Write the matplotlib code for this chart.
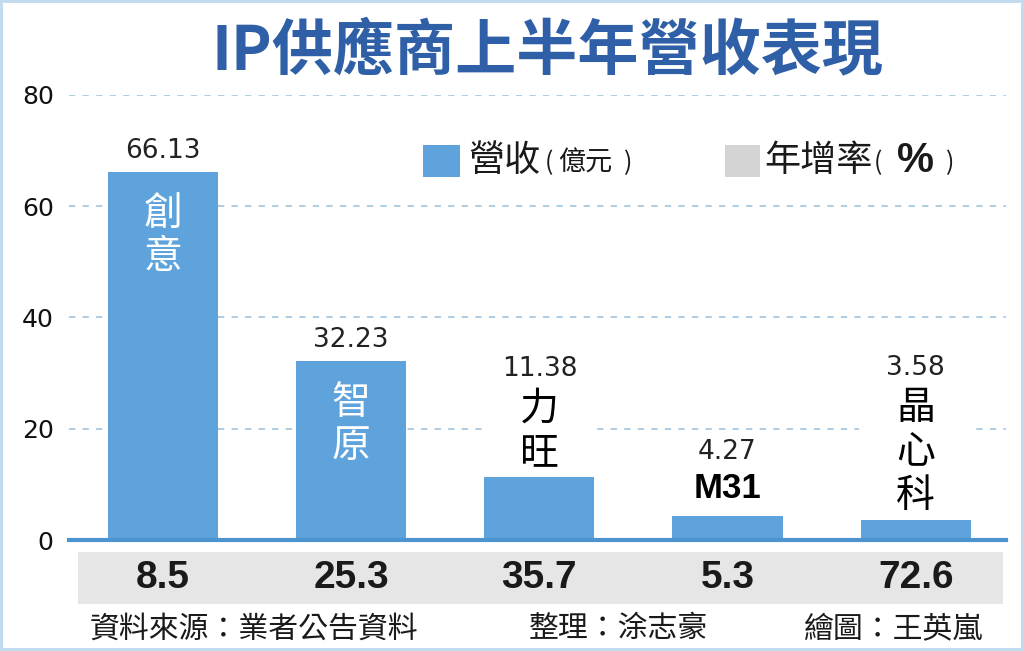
import matplotlib
matplotlib.use("Agg")
import matplotlib.pyplot as plt
from matplotlib.patches import Rectangle
import matplotlib.transforms as mtransforms

plt.rcParams['font.family'] = ['Noto Sans CJK TC', 'DejaVu Sans']

# ---- data ----
companies = ['創意', '智原', '力旺', 'M31', '晶心科']
revenue = [66.13, 32.23, 11.38, 4.27, 3.58]        # 營收 (億元)
growth = [8.5, 25.3, 35.7, 5.3, 72.6]              # 年增率 (%)
label_inside = [True, True, False, False, False]
yticks = [0, 20, 40, 60, 80]

title = 'IP供應商上半年營收表現'
source = '資料來源：業者公告資料'
editor = '整理：涂志豪'
artist = '繪圖：王英嵐'

# ---- style ----
BAR = '#5ea3dc'
BASE = '#4b94cf'
GRID = '#a9c8df'
BAND = '#e6e6e6'
LEG_GRAY = '#d4d4d4'
TITLE_C = '#2f5fa6'
NUMFONT = ['DejaVu Sans']
TXT = '#1a1a1a'

fig = plt.figure(figsize=(10.24, 6.51), dpi=100)
fig.patch.set_facecolor('white')
fig.patch.set_edgecolor('#c2dbee')
fig.patch.set_linewidth(4)

ax = fig.add_axes([0.0674, 0.1705, 0.915, 0.6836])
x = list(range(len(companies)))
ax.set_xlim(-0.5, len(companies) - 0.52)
ax.set_ylim(0, 80)

for s in ax.spines.values():
    s.set_visible(False)
ax.set_xticks([])
ax.set_yticks(yticks)
ax.set_yticklabels([str(t) for t in yticks], fontsize=18, family=NUMFONT, color='#111111')
ax.tick_params(axis='y', length=0, pad=11)
for t in yticks[1:]:
    ax.axhline(t, color=GRID, lw=1.3, ls=(0, (3.5, 4)), zorder=0)

bw = 0.585
bars = ax.bar(x, revenue, width=bw, color=BAR, zorder=3)
ax.axhline(0, color=BASE, lw=3, zorder=4, clip_on=False)

PX = 72 / 100.0  # points per pixel

name_texts = []
for xi, v, name, inside in zip(x, revenue, companies, label_inside):
    if inside:
        ax.annotate('\n'.join(name), (xi, v), xytext=(0, -22 * PX), textcoords='offset points',
                    ha='center', va='top', fontsize=28, color='white', linespacing=1.1, zorder=5)
        ax.annotate(f'{v:.2f}', (xi, v), xytext=(0, 8 * PX), textcoords='offset points',
                    ha='center', va='bottom', fontsize=19, color='#222222', family=NUMFONT, zorder=5)
    else:
        if name.isascii():
            t = ax.annotate(name, (xi, v), xytext=(0, 11 * PX), textcoords='offset points',
                            ha='center', va='bottom', fontsize=25, fontweight='bold', color='black',
                            family=['Liberation Sans', 'DejaVu Sans'], zorder=5)
        else:
            t = ax.annotate('\n'.join(name), (xi, v), xytext=(0, 4 * PX), textcoords='offset points',
                            ha='center', va='bottom', fontsize=28, color='black', linespacing=1.13, zorder=5)
        name_texts.append((xi, v, t))

fig.canvas.draw()
r = fig.canvas.get_renderer()
inv = ax.transData.inverted()
for xi, v, t in name_texts:
    bb = t.get_window_extent(r)
    top = inv.transform((0, bb.y1))[1]
    if top > 20:
        ax.add_patch(Rectangle((xi - bw / 2 - 0.01, v), bw + 0.02, top - v, facecolor='white',
                               edgecolor='none', zorder=1))
    ax.annotate(f'{v:.2f}', (xi, top), xytext=(0, 7 * PX), textcoords='offset points',
                ha='center', va='bottom', fontsize=19, color='#222222', family=NUMFONT, zorder=5)

# ---- growth band ----
trans = mtransforms.blended_transform_factory(ax.transData, ax.transAxes)
ax.add_patch(Rectangle((0.0096, -0.144), 0.987, 0.116, transform=ax.transAxes,
                       facecolor=BAND, edgecolor='none', clip_on=False, zorder=1))
for xi, g in zip(x, growth):
    ax.text(xi, -0.085, f'{g}', transform=trans, ha='center', va='center', fontsize=28,
            fontweight='bold', color=TXT, family=['Liberation Sans Narrow', 'Liberation Sans'],
            clip_on=False)

# ---- title ----
fig.text(0.535, 0.921, title, ha='center', va='center', fontsize=44, fontweight='bold', color=TITLE_C)

# ---- legend ----
fig.add_artist(Rectangle((0.413, 0.728), 0.036, 0.050, transform=fig.transFigure,
                         facecolor=BAR, edgecolor='none'))
fig.text(0.457, 0.753, '營收', ha='left', va='center', fontsize=26, color=TXT)
fig.text(0.532, 0.750, '(', ha='left', va='center', fontsize=18, color=TXT)
fig.text(0.5455, 0.750, '億元', ha='left', va='center', fontsize=19.5, color=TXT)
fig.text(0.609, 0.750, ')', ha='left', va='center', fontsize=18, color=TXT)
fig.add_artist(Rectangle((0.708, 0.728), 0.034, 0.050, transform=fig.transFigure,
                         facecolor=LEG_GRAY, edgecolor='none'))
fig.text(0.746, 0.753, '年增率', ha='left', va='center', fontsize=26, color=TXT)
fig.text(0.853, 0.750, '(', ha='left', va='center', fontsize=18, color=TXT)
fig.text(0.8945, 0.753, '%', ha='center', va='center', fontsize=30, fontweight='bold', color=TXT,
         family=['Liberation Sans', 'DejaVu Sans'])
fig.text(0.924, 0.750, ')', ha='left', va='center', fontsize=18, color=TXT)

# ---- footer ----
fig.text(0.088, 0.034, source, ha='left', va='center', fontsize=21.5, color=TXT)
fig.text(0.516, 0.034, editor, ha='left', va='center', fontsize=21.5, color=TXT)
fig.text(0.785, 0.034, artist, ha='left', va='center', fontsize=21.5, color=TXT)

fig.savefig('out.png', dpi=100, facecolor=fig.get_facecolor(), edgecolor=fig.get_edgecolor())
